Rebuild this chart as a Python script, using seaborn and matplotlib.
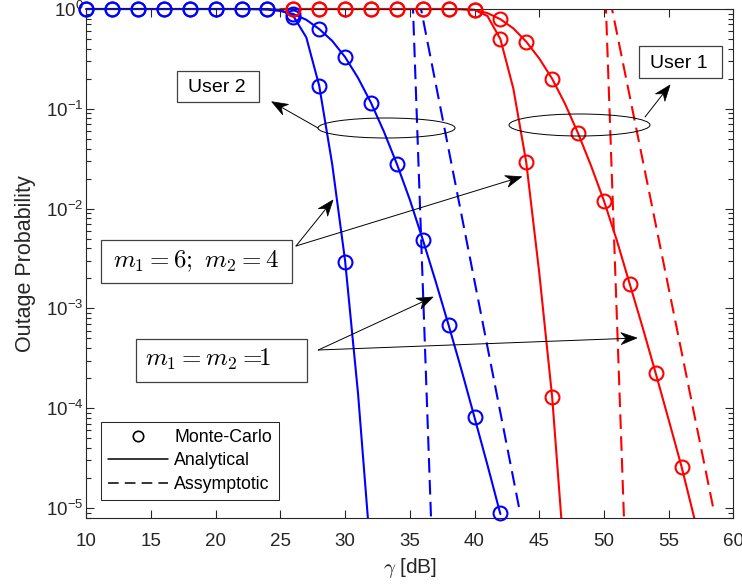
import numpy as np
import matplotlib
matplotlib.use("Agg")
import matplotlib.pyplot as plt
import seaborn as sns
from matplotlib.patches import Ellipse, Rectangle, Polygon
from matplotlib.lines import Line2D
from matplotlib.ticker import LogLocator, NullFormatter, FixedLocator

# ---------------- data ----------------
x_ticks = [10, 15, 20, 25, 30, 35, 40, 45, 50, 55, 60]

# User 2 (blue), m1=6; m2=4 : analytical
u2_an64_x = list(range(10, 33))
u2_an64_y = [1] * 15 + [0.98, 0.85, 0.52, 0.17, 0.028, 3.0e-3, 1.4e-4, 3.2e-6]
# User 2 (blue), m1=m2=1 : analytical
u2_an11_x = list(range(10, 43))
u2_an11_y = [1] * 13 + [0.995, 0.986, 0.955, 0.89, 0.78, 0.63, 0.48, 0.33, 0.204,
                        0.115, 0.059, 0.028, 0.0123, 0.0049, 0.00186, 6.8e-4,
                        2.4e-4, 8.1e-5, 2.7e-5, 8.7e-6]
# User 2 asymptotic
u2_as64_x = [35.2, 36.7]
u2_as64_y = [1.5, 4.8e-6]
u2_as11_x = [35.7, 43.45]
u2_as11_y = [1.29, 1.0e-5]
# User 2 Monte-Carlo
u2_mc64_x = list(range(10, 31, 2))
u2_mc64_y = [1] * 8 + [0.84, 0.17, 2.9e-3]
u2_mc11_x = list(range(10, 43, 2))
u2_mc11_y = [1] * 8 + [0.89, 0.63, 0.33, 0.114, 0.028, 4.9e-3, 6.8e-4, 8.2e-5, 8.9e-6]

# User 1 (red), m1=6; m2=4 : analytical
u1_an64_x = list(range(25, 48))
u1_an64_y = [1] * 14 + [0.998, 0.98, 0.85, 0.50, 0.16, 0.029, 2.3e-3, 1.3e-4, 2.5e-6]
# User 1 (red), m1=m2=1 : analytical
u1_an11_x = list(range(25, 58))
u1_an11_y = [1] * 14 + [0.995, 0.98, 0.91, 0.79, 0.64, 0.47, 0.32, 0.20, 0.112,
                        0.057, 0.027, 0.012, 0.0048, 1.75e-3, 6.4e-4, 2.25e-4,
                        7.7e-5, 2.6e-5, 7.8e-6]
# User 1 asymptotic
u1_as64_x = [50.1, 51.6]
u1_as64_y = [1.66, 5.2e-6]
u1_as11_x = [50.4, 58.45]
u1_as11_y = [1.4, 1.0e-5]
# User 1 Monte-Carlo
u1_mc64_x = list(range(26, 47, 2))
u1_mc64_y = [1] * 7 + [0.98, 0.50, 0.029, 1.3e-4]
u1_mc11_x = list(range(26, 57, 2))
u1_mc11_y = [1] * 7 + [0.98, 0.79, 0.47, 0.20, 0.057, 0.012, 1.75e-3, 2.25e-4, 2.6e-5]

legend_labels = ["Monte-Carlo", "Analytical", "Assymptotic"]

# ---------------- style ----------------
sns.set_style("ticks")
plt.rcParams["font.family"] = ["Liberation Sans", "DejaVu Sans"]
plt.rcParams["mathtext.fontset"] = "cm"
plt.rcParams["axes.unicode_minus"] = False
TXT = "#262626"

W, H = 742, 588
fig = plt.figure(figsize=(W / 100, H / 100), dpi=100)
L, R, T, B = 86.3, 733.3, 9.0, 518.0
fig.subplots_adjust(left=L / W, right=R / W, top=1 - T / H, bottom=1 - B / H)
ax = fig.add_subplot(111)
ax.set_yscale("log")


def af(px, py):
    """pixel position in the figure -> axes fraction"""
    return ((px - L) / (R - L), (B - py) / (B - T))


BLUE, RED = "#0000ff", "#ff0000"
LW = 1.5
dash = (0, (7.0, 3.5))

solid_lines = []
for xs, ys, c in [(u2_an64_x, u2_an64_y, BLUE), (u2_an11_x, u2_an11_y, BLUE),
                  (u1_an64_x, u1_an64_y, RED), (u1_an11_x, u1_an11_y, RED)]:
    n0 = len(ax.lines)
    sns.lineplot(x=xs, y=ys, ax=ax, color=c, lw=LW, errorbar=None, sort=False)
    solid_lines.extend(ax.lines[n0:])

for xs, ys, c in [(u2_as64_x, u2_as64_y, BLUE), (u2_as11_x, u2_as11_y, BLUE),
                  (u1_as64_x, u1_as64_y, RED), (u1_as11_x, u1_as11_y, RED)]:
    sns.lineplot(x=xs, y=ys, ax=ax, color=c, lw=LW, linestyle=dash,
                 errorbar=None, sort=False)

for xs, ys, c in [(u2_mc64_x, u2_mc64_y, BLUE), (u2_mc11_x, u2_mc11_y, BLUE),
                  (u1_mc64_x, u1_mc64_y, RED), (u1_mc11_x, u1_mc11_y, RED)]:
    sns.lineplot(x=xs, y=ys, ax=ax, color=c, linestyle="none", marker="o",
                 markersize=10, markerfacecolor="none", markeredgecolor=c,
                 markeredgewidth=1.5, errorbar=None, sort=False, clip_on=False,
                 zorder=4)

# let the flat solid lines at P=1 show full width on the top border
clip = Rectangle((-0.01, 0), 1.02, 1.02, transform=ax.transAxes)
for ln in solid_lines:
    ln.set_clip_path(clip)

# ---------------- axes ----------------
ax.set_xlim(10, 60)
ax.set_ylim(10 ** -5.1, 1)
ax.xaxis.set_major_locator(FixedLocator(x_ticks))
ax.yaxis.set_major_locator(LogLocator(base=10, numticks=20))
ax.yaxis.set_minor_locator(LogLocator(base=10, subs=np.arange(2, 10), numticks=100))
ax.yaxis.set_minor_formatter(NullFormatter())
ax.tick_params(which="both", direction="in", left=True, bottom=True, top=True,
               right=True, color=TXT, labelcolor=TXT, width=0.8)
ax.tick_params(which="major", length=6, labelsize=13.5)
ax.tick_params(which="minor", length=3.5)
ax.tick_params(axis="x", pad=11)
ax.tick_params(axis="y", pad=2)
for s in ax.spines.values():
    s.set_color(TXT)
    s.set_linewidth(0.8)
    s.set_visible(True)

ax.set_xlabel(r"$\gamma$ [dB]", fontsize=15, color=TXT, labelpad=4)
ax.set_ylabel("Outage Probability", fontsize=15.5, color=TXT, labelpad=7)

# ---------------- legend ----------------
handles = [
    Line2D([], [], color="k", linestyle="none", marker="o", markersize=7.5,
           markerfacecolor="none", markeredgewidth=1.2),
    Line2D([], [], color="k", lw=1.1),
    Line2D([], [], color="k", lw=1.1, linestyle=(0, (7.0, 4.0))),
]
leg = ax.legend(handles, legend_labels, loc="lower left",
                bbox_to_anchor=af(101, 500), borderaxespad=0, frameon=True,
                fancybox=False, framealpha=1, edgecolor=TXT, fontsize=12.8,
                handlelength=3.4, handletextpad=0.35, labelspacing=0.38,
                borderpad=0.38)
leg.get_frame().set_linewidth(0.75)
for t in leg.get_texts():
    t.set_color("k")

# ---------------- annotations ----------------
BOXC = "#404040"


def box(x0, y0, x1, y1):
    a0 = af(x0, y1)
    a1 = af(x1, y0)
    ax.add_patch(Rectangle(a0, a1[0] - a0[0], a1[1] - a0[1], transform=ax.transAxes,
                           fill=False, ec=BOXC, lw=0.9, zorder=6, clip_on=False))


box(176.7, 70.7, 259.3, 102.3)
ax.text(*af(217, 88), "User 2", transform=ax.transAxes, ha="center", va="center",
        fontsize=14, color="k", zorder=7)
box(639, 45.7, 721.7, 78.3)
ax.text(*af(679, 63), "User 1", transform=ax.transAxes, ha="center", va="center",
        fontsize=14, color="k", zorder=7)
box(101, 240, 291.7, 282.7)
ax.text(*af(196, 261), r"$m_1 = 6;\ m_2 = 4$", transform=ax.transAxes,
        ha="center", va="center", fontsize=18, color="k", zorder=7)
box(135.7, 339.3, 306.7, 381.7)
ax.text(*af(145, 359), r"$m_1 = m_2 =\!\!1$", transform=ax.transAxes,
        ha="left", va="center", fontsize=18, color="k", zorder=7)

for (cx, cy), w, h in [((386.5, 128), 137, 20), ((579.5, 125), 141, 22)]:
    c = af(cx, cy)
    ax.add_patch(Ellipse(c, w / (R - L), h / (B - T), transform=ax.transAxes,
                         fill=False, ec="k", lw=0.7, zorder=6))

# MATLAB-like barbed arrows (tail, tip) in figure pixels
arrows = [((318, 128), (271.7, 101.7)),
          ((645, 117), (670, 85)),
          ((296, 246), (333, 200)),
          ((296, 246), (521.7, 176.7)),
          ((318.3, 350), (433, 297)),
          ((318.3, 350), (637, 338))]
HEAD_L, NOTCH, HALF_W = 16.0, 11.0, 6.0
for tail, tip in arrows:
    tail = np.array(tail, float)
    tip = np.array(tip, float)
    d = (tip - tail) / np.hypot(*(tip - tail))
    n = np.array([-d[1], d[0]])
    notch = tip - NOTCH * d
    b1 = tip - HEAD_L * d + HALF_W * n
    b2 = tip - HEAD_L * d - HALF_W * n
    ax.add_line(Line2D([af(*tail)[0], af(*notch)[0]], [af(*tail)[1], af(*notch)[1]],
                       transform=ax.transAxes, color="k", lw=0.7, zorder=6,
                       clip_on=False))
    ax.add_patch(Polygon([af(*tip), af(*b1), af(*notch), af(*b2)], closed=True,
                         transform=ax.transAxes, fc="k", ec="k", lw=0.5,
                         zorder=6, clip_on=False))

fig.savefig("out.png", dpi=100)
